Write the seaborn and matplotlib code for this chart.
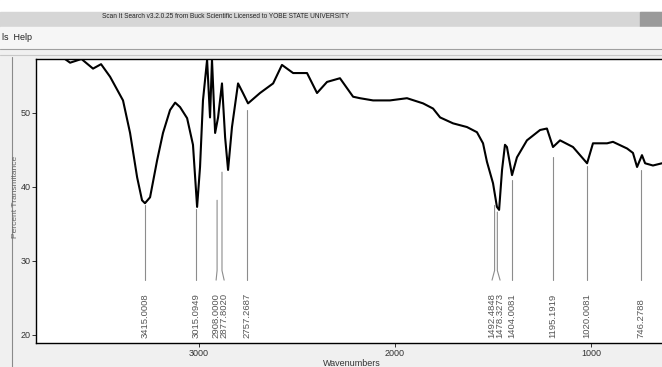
import matplotlib
matplotlib.use("Agg")
import matplotlib.pyplot as plt
import matplotlib.font_manager as fm
from matplotlib.patches import Rectangle
from matplotlib.lines import Line2D
import seaborn as sns
import pandas as pd

# spectrum (wavenumber, % transmittance)
wavenumber = [3700, 3658, 3600, 3541, 3500, 3454, 3388, 3352, 3316, 3291, 3276, 3250, 3214,
              3184, 3148, 3122, 3097, 3061, 3031, 3010, 2995, 2980, 2959,
              2944, 2934, 2918, 2903, 2883, 2867, 2852, 2832, 2801, 2776,
              2750, 2689, 2622, 2577, 2520, 2449, 2398, 2347, 2281, 2214,
              2179, 2112, 2026, 1939, 1857, 1806, 1770, 1704, 1633, 1582,
              1551, 1531, 1500, 1480, 1469, 1454, 1439, 1429, 1403, 1378,
              1327, 1260, 1225, 1194, 1158, 1092, 1020, 990, 918, 888,
              816, 786, 765, 740, 724, 684, 638]
transmittance = [57.6, 56.8, 57.3, 56.0, 56.6, 54.9, 51.7, 47.3, 41.3, 38.2, 37.8, 38.6, 43.6,
                 47.3, 50.4, 51.4, 50.8, 49.3, 45.7, 37.3, 42.7, 51.7, 57.2,
                 49.4, 57.2, 47.3, 49.4, 54.0, 46.7, 42.3, 48.1, 54.0, 52.7,
                 51.3, 52.7, 54.0, 56.5, 55.4, 55.4, 52.7, 54.2, 54.7, 52.2,
                 52.0, 51.7, 51.7, 52.0, 51.3, 50.6, 49.4, 48.6, 48.1, 47.4,
                 45.9, 43.4, 40.5, 37.3, 36.9, 42.3, 45.7, 45.4, 41.6, 44.0,
                 46.3, 47.7, 47.9, 45.4, 46.3, 45.4, 43.2, 45.9, 45.9, 46.1,
                 45.2, 44.6, 42.7, 44.3, 43.2, 42.9, 43.2]

# peak picks: where the marker line sits, where it starts, where its label sits
peak_labels = ["3415.0008", "3015.0949", "2908.0000", "2877.8020", "2757.2687",
               "1492.4848", "1478.3273", "1404.0081", "1195.1919", "1020.0081",
               "746.2788"]
peak_pos = [3276, 3015, 2908, 2883, 2757, 1492, 1478, 1404, 1195, 1020, 746]
peak_top = [37.5, 37.0, 38.2, 42.0, 50.4, 37.5, 36.6, 40.9, 44.0, 42.9, 42.3]
label_pos = [3276, 3015, 2913, 2872, 2757, 1505, 1464, 1404, 1195, 1020, 746]

y_ticks = [20, 30, 40, 50]
x_ticks = [3000, 2000, 1000]

W, H = 662, 367

sns.set_style("white")
names = {f.name for f in fm.fontManager.ttflist}
narrow = "Liberation Sans Narrow" if "Liberation Sans Narrow" in names else "Liberation Sans"
plt.rcParams["font.family"] = ["Liberation Sans", "DejaVu Sans"]

fig = plt.figure(figsize=(W / 100, H / 100), dpi=100)
fig.patch.set_facecolor("#f0f0f0")


def fx(px):
    return px / W


def fy(py):
    return 1 - py / H


def rect(x0, y0, x1, y1, color):
    fig.patches.append(Rectangle((fx(x0), fy(y1)), fx(x1) - fx(x0), fy(y0) - fy(y1),
                                 transform=fig.transFigure, color=color, zorder=0))


# window chrome
rect(0, 0, W, 12, "white")
rect(0, 12, W, 27, "#d6d6d6")
rect(640, 12, W, 27, "#9a9a9a")
rect(0, 27, W, 49, "#f6f6f6")
fig.lines.append(Line2D([0, 1], [fy(49), fy(49)], transform=fig.transFigure, color="#a0a0a0", lw=0.8))
fig.lines.append(Line2D([0, 1], [fy(55), fy(55)], transform=fig.transFigure, color="#c8c8c8", lw=0.8))
fig.lines.append(Line2D([fx(12), fx(12)], [fy(57), 0], transform=fig.transFigure, color="#8a8a8a", lw=0.8))
fig.text(fx(226), fy(16), "Scan It Search v3.2.0.25 from Buck Scientific Licensed to YOBE STATE UNIVERSITY",
         family=narrow, fontsize=4.7, color="#222222", ha="center", va="center")
fig.text(fx(2), fy(38), "ls  Help", family=narrow, fontsize=6.5, color="#222222", ha="left", va="center")

ax = fig.add_axes([fx(36), fy(343), 1 - fx(36) + 0.01, fy(59) - fy(343)])
ax.set_facecolor("white")

df = pd.DataFrame({"wn": wavenumber, "T": transmittance})
sns.lineplot(data=df, x="wn", y="T", sort=False, estimator=None, color="black", lw=1.5, ax=ax)

bend_y, end_y = 28.7, 27.4
for lab, p, top, lp in zip(peak_labels, peak_pos, peak_top, label_pos):
    ax.plot([p, p, lp], [top, bend_y, end_y], color="#8c8c8c", lw=0.8, zorder=1)
    ax.text(lp, 19.6, lab, rotation=90, ha="center", va="bottom", fontsize=6.8, color="#555555")

ax.set_xlim(3832, 604)
ax.set_ylim(18.9, 57.3)
ax.set_xticks(x_ticks)
ax.set_yticks(y_ticks)
ax.set_xticklabels([str(t) for t in x_ticks], family=narrow)
ax.set_yticklabels([str(t) for t in y_ticks], family=narrow)
ax.tick_params(axis="both", direction="out", length=3, width=0.7, pad=1,
               labelsize=6.5, colors="#333333", bottom=True, left=True)
ax.set_xlabel("")
ax.set_ylabel("")
for side in ["left", "top", "bottom"]:
    ax.spines[side].set_color("black")
    ax.spines[side].set_linewidth(1.0)
ax.spines["right"].set_visible(False)

fig.text(fx(16), fy(197), "Percent Transmitance", rotation=90, ha="center", va="center",
         fontsize=6, color="#666666")
fig.text(fx(352), fy(363), "Wavenumbers", family=narrow, ha="center", va="center",
         fontsize=6.5, color="#333333")

fig.savefig("out.png", dpi=100, facecolor=fig.get_facecolor())
